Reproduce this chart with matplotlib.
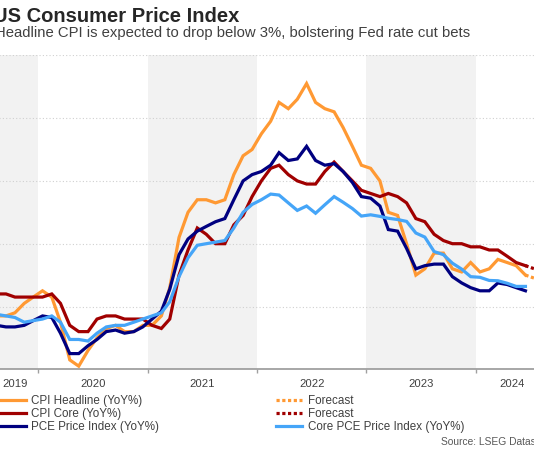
import matplotlib
matplotlib.use('Agg')
import matplotlib.pyplot as plt
import matplotlib.dates as mdates
import pandas as pd

plt.rcParams['font.family'] = ['Liberation Sans', 'DejaVu Sans']

# ---------------- data ----------------
months = pd.date_range('2019-08-01', '2024-06-01', freq='MS') + pd.Timedelta(days=14)

cpi_headline = [1.7, 1.7, 1.8, 2.1, 2.3,
                2.5, 2.3, 1.5, 0.3, 0.1, 0.6, 1.0, 1.3, 1.4, 1.2, 1.2, 1.4,
                1.4, 1.7, 2.6, 4.2, 5.0, 5.4, 5.4, 5.3, 5.4, 6.2, 6.8, 7.0,
                7.5, 7.9, 8.5, 8.3, 8.6, 9.1, 8.5, 8.3, 8.2, 7.7, 7.1, 6.5,
                6.4, 6.0, 5.0, 4.9, 4.0, 3.0, 3.2, 3.7, 3.7, 3.2, 3.1, 3.4,
                3.1, 3.2, 3.5, 3.4, 3.3, 3.0]
cpi_core = [2.4, 2.4, 2.3, 2.3, 2.3,
            2.3, 2.4, 2.1, 1.4, 1.2, 1.2, 1.6, 1.7, 1.7, 1.6, 1.6, 1.6,
            1.4, 1.3, 1.6, 3.0, 3.8, 4.5, 4.3, 4.0, 4.0, 4.6, 4.9, 5.5,
            6.0, 6.4, 6.5, 6.2, 6.0, 5.9, 5.9, 6.3, 6.6, 6.3, 6.0, 5.7,
            5.6, 5.5, 5.6, 5.5, 5.3, 4.8, 4.7, 4.3, 4.1, 4.0, 4.0, 3.9,
            3.9, 3.8, 3.8, 3.6, 3.4, 3.3]
pce = [1.4, 1.35, 1.35, 1.4, 1.55,
       1.7, 1.65, 1.15, 0.5, 0.5, 0.75, 0.95, 1.2, 1.25, 1.15, 1.2, 1.35,
       1.6, 1.85, 2.55, 3.65, 4.15, 4.4, 4.55, 4.7, 4.8, 5.4, 6.0, 6.2,
       6.3, 6.5, 6.9, 6.65, 6.7, 7.1, 6.65, 6.5, 6.55, 6.3, 5.95, 5.5,
       5.45, 5.2, 4.45, 4.4, 3.85, 3.2, 3.3, 3.35, 3.35, 2.95, 2.75, 2.6,
       2.5, 2.5, 2.75, 2.7, 2.6, 2.5]
core_pce = [1.75, 1.7, 1.65, 1.5, 1.55,
            1.6, 1.7, 1.5, 0.95, 0.95, 0.9, 1.15, 1.35, 1.4, 1.4, 1.5, 1.6,
            1.7, 1.8, 2.15, 2.95, 3.55, 3.95, 4.0, 4.05, 4.1, 4.5, 5.0, 5.25,
            5.4, 5.58, 5.55, 5.3, 5.06, 5.2, 4.97, 5.24, 5.5, 5.32, 5.12, 4.88,
            4.92, 4.87, 4.81, 4.77, 4.71, 4.34, 4.21, 3.75, 3.65, 3.38, 3.19, 2.95,
            2.93, 2.83, 2.82, 2.74, 2.64, 2.64]

fc_months = pd.to_datetime(['2024-06-15', '2024-07-15'])
fc_headline = [3.0, 2.9]
fc_core = [3.3, 3.2]

years = [2019, 2020, 2021, 2022, 2023, 2024]
year_labels = ['2019', '2020', '2021', '2022', '2023', '2024']
shaded_years = [2019, 2021, 2023]

labels = ['CPI Headline (YoY%)', 'CPI Core (YoY%)', 'PCE Price Index (YoY%)',
          'Forecast', 'Forecast', 'Core PCE Price Index (YoY%)']

c_orange = '#FF9933'
c_red = '#A00000'
c_navy = '#000080'
c_blue = '#45A5F8'

# ---------------- figure ----------------
W, H = 534, 450
fig = plt.figure(figsize=(W / 100, H / 100), dpi=100)
ax = fig.add_axes([-7.5 / W, 80.7 / H, 556.3 / W, 314 / H])

xmin = pd.Timestamp('2019-08-01')
xmax = pd.Timestamp('2024-09-01')

for y in shaded_years:
    ax.axvspan(pd.Timestamp(f'{y}-01-01'), pd.Timestamp(f'{y + 1}-01-01'),
               color='#F2F2F2', zorder=0, lw=0)

lw = 2.3
l1, = ax.plot(months, cpi_headline, color=c_orange, lw=lw, zorder=3, solid_joinstyle='miter')
f1, = ax.plot(fc_months, fc_headline, color=c_orange, lw=lw, ls=(0, (1, 0.8)), zorder=3)
l2, = ax.plot(months, cpi_core, color=c_red, lw=lw, zorder=4, solid_joinstyle='miter')
f2, = ax.plot(fc_months, fc_core, color=c_red, lw=lw, ls=(0, (1, 0.8)), zorder=4)
l3, = ax.plot(months, pce, color=c_navy, lw=lw, zorder=5, solid_joinstyle='miter')
l4, = ax.plot(months, core_pce, color=c_blue, lw=lw, zorder=6, solid_joinstyle='miter')

ax.set_xlim(xmin, xmax)
ax.set_ylim(0, 10)

ax.set_yticks([0, 2, 4, 6, 8, 10])
ax.yaxis.grid(True, linestyle=(0, (1, 2)), color='#d0d0d0', lw=0.8)
ax.set_axisbelow(True)
ax.tick_params(axis='y', left=False, labelleft=False)

for s in ['left', 'right', 'top']:
    ax.spines[s].set_visible(False)
ax.spines['bottom'].set_color('#a0a0a0')
ax.spines['bottom'].set_linewidth(1.3)
ax.spines['bottom'].set_zorder(7)

major = [pd.Timestamp(f'{y}-01-01') for y in years[1:]]
ax.set_xticks(major)
ax.set_xticklabels([''] * len(major))
ax.tick_params(axis='x', which='major', length=3, width=1, color='#a0a0a0', direction='out')

centers = []
for y in years:
    a = max(pd.Timestamp(f'{y}-01-01'), xmin)
    b = min(pd.Timestamp(f'{y + 1}-01-01'), xmax)
    centers.append(a + (b - a) / 2)
ax.set_xticks(centers, minor=True)
ax.set_xticklabels(year_labels, minor=True)
ax.tick_params(axis='x', which='minor', length=0, pad=7, labelsize=8.1, labelcolor='#404040')

# ---------------- text ----------------
fig.text(-7 / W, 1 - 17 / H, 'US Consumer Price Index', fontsize=14.5, fontweight='bold',
         color='#262626', ha='left', va='center')
fig.text(-5 / W, 1 - 33 / H,
         'Headline CPI is expected to drop below 3%, bolstering Fed rate cut bets',
         fontsize=10.7, color='#404040', ha='left', va='center')

fig.legend([l1, l2, l3, f1, f2, l4], labels, loc='upper left',
           bbox_to_anchor=(-1 / W, 1 - 395 / H), ncol=2, frameon=False,
           fontsize=8.4, handlelength=2.3, handletextpad=0.45, columnspacing=10.0,
           labelspacing=0.1, borderpad=0, borderaxespad=0, labelcolor='#404040')

fig.text(441 / W, 1 - 442 / H, 'Source: LSEG Datastream', fontsize=7.4,
         color='#595959', ha='left', va='center')

fig.savefig('out.png', dpi=100)
